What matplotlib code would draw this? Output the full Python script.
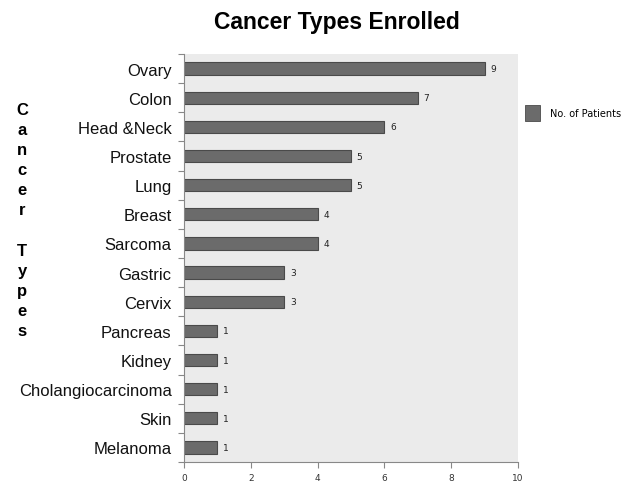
import matplotlib
matplotlib.use("Agg")
import matplotlib.pyplot as plt
from matplotlib.patches import Patch

categories = ["Ovary", "Colon", "Head &Neck", "Prostate", "Lung", "Breast", "Sarcoma",
              "Gastric", "Cervix", "Pancreas", "Kidney", "Cholangiocarcinoma", "Skin", "Melanoma"]
patients = [9, 7, 6, 5, 5, 4, 4, 3, 3, 1, 1, 1, 1, 1]
x_ticks = [0, 2, 4, 6, 8, 10]

bar_color = "#6b6b6b"
edge_color = "#4a4a4a"

fig = plt.figure(figsize=(6.27, 4.85), dpi=100)
ax = fig.add_axes([184 / 627, 1 - 463 / 485, (518 - 184) / 627, (463 - 55) / 485])
ax.set_facecolor("#ebebeb")

ypos = list(range(len(categories)))
ax.barh(ypos, patients, height=0.42, color=bar_color, edgecolor=edge_color, linewidth=0.8, zorder=2)

for y, v in zip(ypos, patients):
    ax.text(v + 0.17, y, str(v), va="center", ha="left", fontsize=6.5,
            family="DejaVu Sans", color="#222222")

ax.set_xlim(0, 10)
ax.set_ylim(len(categories) - 0.5, -0.5)
ax.set_xticks(x_ticks)
ax.set_xticklabels([str(t) for t in x_ticks], fontsize=6.5, family="DejaVu Sans", color="#333333")

ax.set_yticks(ypos)
ax.set_yticklabels(categories, fontsize=12, family="Liberation Sans", color="#111111")
ax.tick_params(axis="y", which="major", length=0, pad=9)
ax.set_yticks([y - 0.5 for y in range(len(categories) + 1)], minor=True)
ax.tick_params(axis="y", which="minor", length=4, color="#888888", width=0.8, direction="out")
ax.tick_params(axis="x", which="major", length=4, color="#888888", width=0.8, direction="out", pad=4)

for side in ("top", "right"):
    ax.spines[side].set_visible(False)
ax.spines["left"].set_color("#888888")
ax.spines["bottom"].set_color("#888888")

fig.text(337 / 627, 1 - 22 / 485, "Cancer Types Enrolled", ha="center", va="center",
         fontsize=16.5, fontweight="bold", family="Liberation Sans")

fig.text(22 / 627, 1 - 221 / 485, "C\na\nn\nc\ne\nr\n\nT\ny\np\ne\ns", ha="center", va="center",
         fontsize=12, fontweight="bold", family="Liberation Sans", linespacing=1.43)

handle = Patch(facecolor=bar_color, edgecolor=edge_color, linewidth=0.6)
fig.legend([handle], ["No. of Patients"], loc="center left",
           bbox_to_anchor=(516 / 627, 1 - 114 / 485), frameon=False,
           prop={"family": "DejaVu Sans", "size": 7}, handlelength=1.55, handleheight=2.1,
           handletextpad=1.0)

fig.savefig("out.png", dpi=100, facecolor="white")
